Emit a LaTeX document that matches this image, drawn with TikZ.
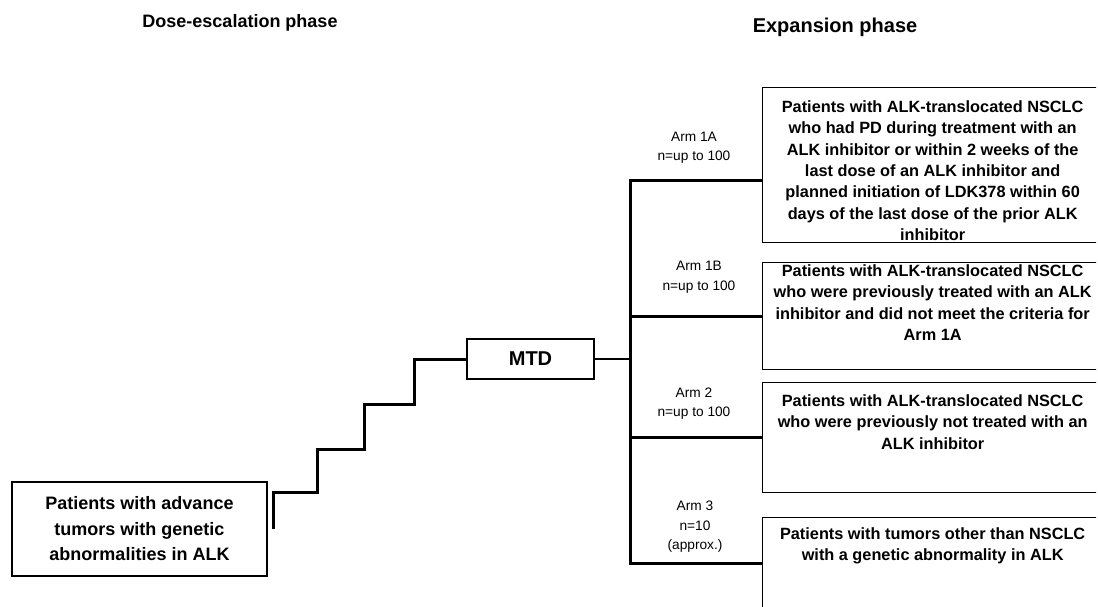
\documentclass[tikz,border=0pt]{standalone}
\usepackage{fontspec}
\setmainfont{Liberation Sans}
\usetikzlibrary{positioning,calc}

% text of an arm box, hung from the top edge (box runs on past the page)
\newcommand{\toptext}[3]{\makebox[370pt][l]{\parbox[c][#1][t]{340pt}{\centering\rule{0pt}{#2}#3}}}

\begin{document}
\begin{tikzpicture}[
    x=1pt, y=-1pt,
    box/.style={draw, line width=1.3pt, inner sep=0pt, align=center},
    armbox/.style={box, anchor=north west, font=\fontsize{16.3}{21.3}\selectfont\bfseries},
    armlabel/.style={align=center, font=\fontsize{13.7}{19.5}\selectfont},
    title/.style={font=\fontsize{18}{20}\selectfont\bfseries},
    stair/.style={line width=3pt},
    branch/.style={line width=3pt}
  ]
    \useasboundingbox (0,0) rectangle (1098,606);

    \node[title] (dosetitle) at (240,23) {Dose-escalation phase};
    \node[title, font=\fontsize{20}{22}\selectfont\bfseries] (exptitle) at (835,27) {Expansion phase};

    \node[box, minimum width=255pt, minimum height=94pt, font=\fontsize{18}{25.5}\selectfont\bfseries] (start) at (139.5,529) {Patients with advance\\tumors with genetic\\abnormalities in ALK};
    \node[box, minimum width=127pt, minimum height=40pt, font=\fontsize{20}{24}\selectfont\bfseries] (mtd) at (530.5,359) {MTD};

    % the arm boxes run on past the right edge of the page
    \begin{scope}
      \clip (740,60) rectangle (1096,606);
      \node[armbox] (arm1a) at (762,87) {\toptext{155pt}{25pt}{Patients with ALK-translocated NSCLC\\who had PD during treatment with an\\ALK inhibitor or within 2 weeks of the\\last dose of an ALK inhibitor and\\planned initiation of LDK378 within 60\\days of the last dose of the prior ALK\\inhibitor}};
      \node[armbox] (arm1b) at (762,262) {\toptext{107pt}{14pt}{Patients with ALK-translocated NSCLC\\who were previously treated with an ALK\\inhibitor and did not meet the criteria for\\Arm 1A}};
      \node[armbox] (arm2) at (762,382) {\toptext{110pt}{24pt}{Patients with ALK-translocated NSCLC\\who were previously not treated with an\\ALK inhibitor}};
      \node[armbox] (arm3) at (762,517) {\toptext{92pt}{22pt}{Patients with tumors other than NSCLC\\with a genetic abnormality in ALK}};
    \end{scope}

    \node[armlabel] (lbl1a) at (694,147.5) {Arm 1A\\n=up to 100};
    \node[armlabel] (lbl1b) at (699,277) {Arm 1B\\n=up to 100};
    \node[armlabel] (lbl2) at (694,403.5) {Arm 2\\n=up to 100};
    \node[armlabel] (lbl3) at (695,527) {Arm 3\\n=10\\(approx.)};

    \coordinate (top) at (630,180);

    % staircase up to the MTD
    \draw[stair] ([xshift=6pt]start.east) -- ++(0,-37) -- ++(44,0) -- ++(0,-43) -- ++(47,0) -- ++(0,-45) -- ++(50,0) |- (mtd.west);

    % MTD into the arms
    \draw[line width=2pt] (mtd.east) -- (mtd.east -| top);
    \draw[branch] (top -| arm1a.west) -- (top) -- (top |- arm3.west) -- (arm3.west);
    \draw[branch] (top |- arm1b.west) -- (arm1b.west);
    \draw[branch] (top |- arm2.west) -- (arm2.west);
  \end{tikzpicture}
\end{document}
